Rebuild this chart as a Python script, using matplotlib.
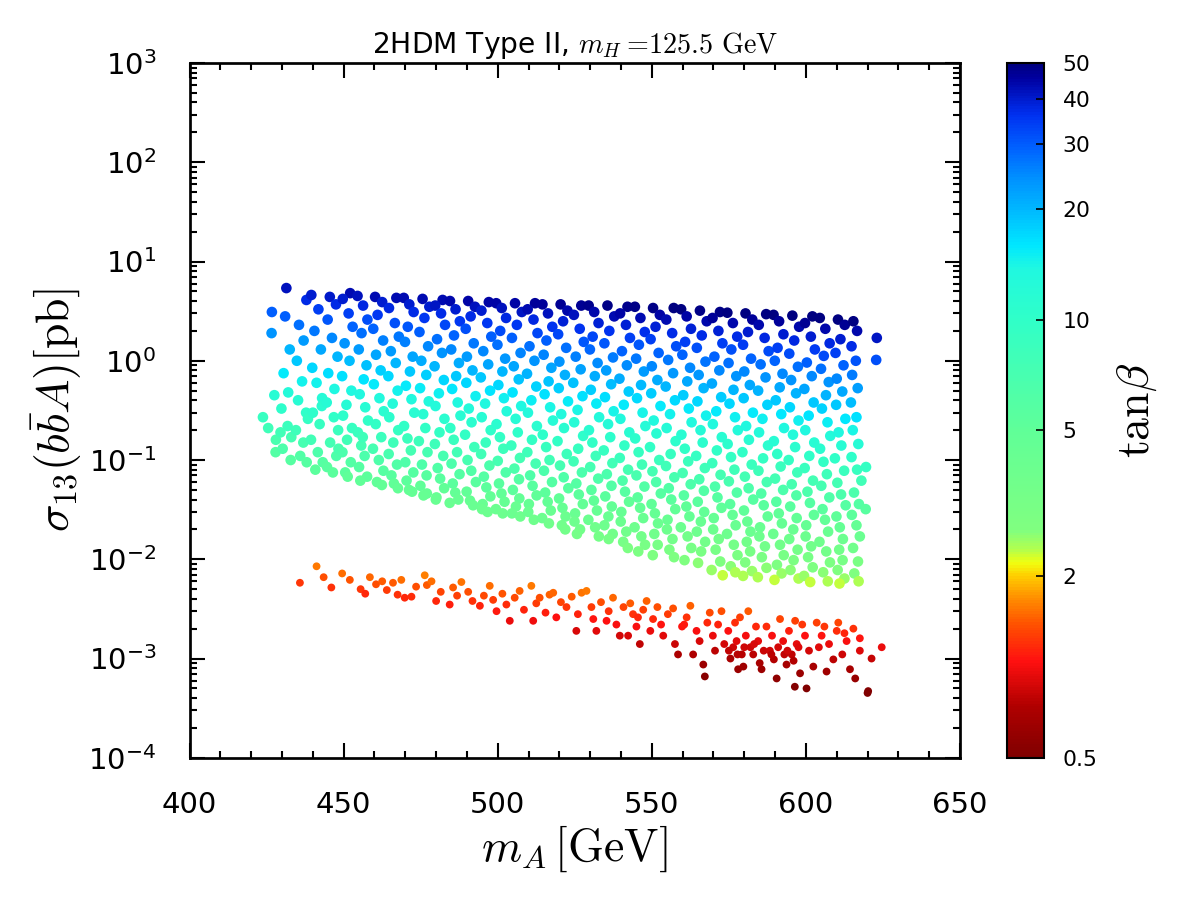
import numpy as np
import matplotlib
matplotlib.use('Agg')
import matplotlib.pyplot as plt
from matplotlib.colors import LogNorm, LinearSegmentedColormap
from matplotlib.ticker import MultipleLocator, LogLocator, NullFormatter

plt.rcParams['mathtext.fontset'] = 'cm'
plt.rcParams['axes.unicode_minus'] = False
plt.rcParams['font.family'] = ['DejaVu Sans']

# main cloud: m_A [GeV], sigma [pb], tan(beta)  (one line per m_A strip)
ma_main = [
    426.7, 426.6, 423.8, 425.5, 427.9, 427.5, 428.0,
    431.4, 431.0, 432.5, 430.5, 432.0, 429.8, 431.8, 433.0, 430.2, 432.8, 429.5,
    437.9, 435.5, 437.0, 434.8, 436.5, 435.2, 437.8, 434.5, 436.9, 435.9, 438.0, 438.4,
    439.5, 441.8, 440.5, 442.6, 439.8, 441.2, 443.0, 440.0, 442.2, 439.4, 441.6, 443.2, 440.8, 442.9,
    445.5, 447.5, 444.8, 446.2, 448.0, 445.0, 447.0, 444.5, 446.8, 448.2, 445.6, 447.6, 444.6, 446.5, 448.3,
    452.1, 449.7, 451.6, 452.9, 450.3, 451.9, 449.5, 452.5, 450.9, 449.8, 452.7, 451.1, 449.6, 452.3, 450.5, 451.3,
    454.5, 456.3, 457.7, 455.8, 454.9, 457.4, 456.5, 455.2, 457.0, 457.9, 454.6, 455.7, 456.8, 455.0, 457.6, 455.4, 456.2,
    460.2, 462.5, 461.0, 459.6, 462.8, 460.5, 462.0, 459.8, 461.6, 463.0, 460.4, 462.2, 459.5, 461.4, 462.9, 460.8, 462.4,
    467.1, 464.7, 466.6, 467.9, 465.3, 466.9, 464.5, 467.5, 465.9, 464.8, 467.7, 466.1, 464.6, 467.3, 465.5, 466.3, 467.6,
    469.5, 471.3, 472.7, 470.8, 469.9, 472.4, 471.5, 470.2, 472.0, 472.9, 469.6, 470.7, 471.8, 470.0, 472.6, 470.4, 471.2, 472.2,
    475.6, 477.8, 476.2, 474.6, 477.4, 475.2, 476.8, 474.8, 477.6, 475.8, 476.5, 474.4, 477.2, 475.4, 476.9, 474.9, 477.0, 475.9,
    482.1, 479.7, 481.6, 482.9, 480.3, 481.9, 479.5, 482.5, 480.9, 479.8, 482.7, 481.1, 479.6, 482.3, 480.5, 481.3, 482.6, 480.1, 479.9,
    484.5, 486.3, 487.7, 485.8, 484.9, 487.4, 486.5, 485.2, 487.0, 487.9, 484.6, 485.7, 486.8, 485.0, 487.6, 485.4, 486.2, 487.2, 484.4,
    490.4, 492.6, 491.2, 489.6, 492.2, 490.0, 491.8, 489.8, 492.8, 490.6, 491.5, 489.4, 492.4, 490.2, 491.4, 492.9, 489.9, 491.0, 492.0,
    497.1, 494.7, 496.6, 497.9, 495.3, 496.9, 494.5, 497.5, 495.9, 494.8, 497.7, 496.1, 494.6, 497.3, 495.5, 496.3, 497.6, 495.1, 494.9, 496.7,
    499.5, 501.3, 502.7, 500.8, 499.9, 502.4, 501.5, 500.2, 502.0, 502.9, 499.6, 500.7, 501.8, 500.0, 502.6, 500.4, 501.2, 502.2, 499.4, 501.6,
    505.6, 507.8, 506.2, 504.6, 507.4, 505.2, 506.8, 504.8, 507.6, 505.8, 506.5, 504.4, 507.2, 505.4, 506.9, 504.9, 507.0, 505.9, 504.6, 507.3,
    512.1, 509.7, 511.6, 512.9, 510.3, 511.9, 509.5, 512.5, 510.9, 509.8, 512.7, 511.1, 509.6, 512.3, 510.5, 511.3, 512.6, 510.1, 509.9, 511.7,
    514.5, 516.3, 517.7, 515.8, 514.9, 517.4, 516.5, 515.2, 517.0, 517.9, 514.6, 515.7, 516.8, 515.0, 517.6, 515.4, 516.2, 517.2, 514.4, 516.6,
    520.4, 522.6, 521.2, 519.6, 522.2, 520.0, 521.8, 519.8, 522.8, 520.6, 521.5, 519.4, 522.4, 520.2, 521.4, 522.9, 519.9, 521.0, 522.0, 520.8, 521.9,
    527.1, 524.7, 526.6, 527.9, 525.3, 526.9, 524.5, 527.5, 525.9, 524.8, 527.7, 526.1, 524.6, 527.3, 525.5, 526.3, 527.6, 525.1, 524.9, 526.7, 525.7,
    529.5, 531.3, 532.7, 530.8, 529.9, 532.4, 531.5, 530.2, 532.0, 532.9, 529.6, 530.7, 531.8, 530.0, 532.6, 530.4, 531.2, 532.2, 529.4, 531.6, 532.8,
    535.6, 537.8, 536.2, 534.6, 537.4, 535.2, 536.8, 534.8, 537.6, 535.8, 536.5, 534.4, 537.2, 535.4, 536.9, 534.9, 537.0, 535.9, 534.6, 537.3, 536.0,
    542.1, 539.7, 541.6, 542.9, 540.3, 541.9, 539.5, 542.5, 540.9, 539.8, 542.7, 541.1, 539.6, 542.3, 540.5, 541.3, 542.6, 540.1, 539.9, 541.7, 540.7, 542.2,
    544.5, 546.3, 547.7, 545.8, 544.9, 547.4, 546.5, 545.2, 547.0, 547.9, 544.6, 545.7, 546.8, 545.0, 547.6, 545.4, 546.2, 547.2, 544.4, 546.6, 547.8, 545.6,
    550.4, 552.6, 551.2, 549.6, 552.2, 550.0, 551.8, 549.8, 552.8, 550.6, 551.5, 549.4, 552.4, 550.2, 551.4, 552.9, 549.9, 551.0, 552.0, 550.8, 551.9, 550.3,
    557.1, 554.7, 556.6, 557.9, 555.3, 556.9, 554.5, 557.5, 555.9, 554.8, 557.7, 556.1, 554.6, 557.3, 555.5, 556.3, 557.6, 555.1, 554.9, 556.7, 555.7, 557.2,
    559.5, 561.3, 562.7, 560.8, 559.9, 562.4, 561.5, 560.2, 562.0, 562.9, 559.6, 560.7, 561.8, 560.0, 562.6, 560.4, 561.2, 562.2, 559.4, 561.6, 562.8, 560.6,
    565.6, 567.8, 566.2, 564.6, 567.4, 565.2, 566.8, 564.8, 567.6, 565.8, 566.5, 564.4, 567.2, 565.4, 566.9, 564.9, 567.0, 565.9, 564.6, 567.3, 566.0, 565.0,
    572.1, 569.7, 571.6, 572.9, 570.3, 571.9, 569.5, 572.5, 570.9, 569.8, 572.7, 571.1, 569.6, 572.3, 570.5, 571.3, 572.6, 570.1, 569.9, 571.7, 570.7, 572.2, 569.4, 573.0,
    574.5, 576.3, 577.7, 575.8, 574.9, 577.4, 576.5, 575.2, 577.0, 577.9, 574.6, 575.7, 576.8, 575.0, 577.6, 575.4, 576.2, 577.2, 574.4, 576.6, 577.8, 575.6, 577.1,
    580.4, 582.6, 581.2, 579.6, 582.2, 580.0, 581.8, 579.8, 582.8, 580.6, 581.5, 579.4, 582.4, 580.2, 581.4, 582.9, 579.9, 581.0, 582.0, 580.8, 581.9, 580.3, 582.5, 579.6,
    587.1, 584.7, 586.6, 587.9, 585.3, 586.9, 584.5, 587.5, 585.9, 584.8, 587.7, 586.1, 584.6, 587.3, 585.5, 586.3, 587.6, 585.1, 584.9, 586.7, 585.7, 587.2, 584.4,
    589.5, 591.3, 592.7, 590.8, 589.9, 592.4, 591.5, 590.2, 592.0, 592.9, 589.6, 590.7, 591.8, 590.0, 592.6, 590.4, 591.2, 592.2, 589.4, 591.6, 592.8, 590.6, 592.1, 589.8,
    595.6, 597.8, 596.2, 594.6, 597.4, 595.2, 596.8, 594.8, 597.6, 595.8, 596.5, 594.4, 597.2, 595.4, 596.9, 594.9, 597.0, 595.9, 594.6, 597.3, 596.0, 595.0, 597.6,
    602.1, 599.7, 601.6, 602.9, 600.3, 601.9, 599.5, 602.5, 600.9, 599.8, 602.7, 601.1, 599.6, 602.3, 600.5, 601.3, 602.6, 600.1, 599.9, 601.7, 600.7, 602.2, 599.4, 601.4,
    604.5, 606.3, 607.7, 605.8, 604.9, 607.4, 606.5, 605.2, 607.0, 607.9, 604.6, 605.7, 606.8, 605.0, 607.6, 605.4, 606.2, 607.2, 604.4, 606.6, 607.8, 605.6, 607.1,
    610.4, 612.6, 611.2, 609.6, 612.2, 610.0, 611.8, 609.8, 612.8, 610.6, 611.5, 609.4, 612.4, 610.2, 611.4, 612.9, 609.9, 611.0, 612.0, 610.8, 611.9, 610.3, 612.5, 610.9,
    615.4, 616.6, 614.8, 616.2, 615.0, 616.8, 614.6, 616.4, 615.2, 617.0, 614.8, 616.6, 618.0, 615.6, 617.2, 614.9, 616.4, 617.5, 615.3, 616.9, 615.7, 617.1,
    619.5, 619.4, 623.0, 622.8,
]
sig_main = [
    3.1, 1.9, 0.27, 0.21, 0.12, 0.45, 0.16,
    5.4, 2.8, 1.3, 0.75, 0.48, 0.33, 0.22, 0.17, 0.13, 0.1, 0.19,
    4.1, 2.3, 1.6, 1.0, 0.62, 0.4, 0.3, 0.2, 0.15, 0.11, 0.095, 0.26,
    4.6, 3.3, 2.0, 1.3, 0.85, 0.6, 0.42, 0.3, 0.23, 0.16, 0.12, 0.095, 0.08, 0.35,
    4.4, 3.7, 2.6, 1.7, 1.1, 0.75, 0.52, 0.38, 0.27, 0.2, 0.15, 0.11, 0.085, 0.075, 0.13,
    4.8, 4.2, 3.0, 2.2, 1.5, 1.0, 0.7, 0.5, 0.36, 0.28, 0.21, 0.16, 0.12, 0.095, 0.075, 0.068,
    4.5, 3.6, 2.6, 1.9, 1.3, 0.9, 0.65, 0.46, 0.34, 0.25, 0.19, 0.14, 0.11, 0.085, 0.068, 0.062, 0.17,
    4.4, 3.9, 2.9, 2.1, 1.6, 1.15, 0.8, 0.58, 0.42, 0.31, 0.23, 0.17, 0.13, 0.1, 0.078, 0.06, 0.056,
    4.3, 3.4, 2.4, 1.75, 1.25, 0.95, 0.7, 0.5, 0.37, 0.27, 0.2, 0.15, 0.115, 0.09, 0.07, 0.058, 0.052,
    4.3, 3.7, 3.1, 2.2, 1.55, 1.1, 0.78, 0.56, 0.41, 0.3, 0.22, 0.165, 0.125, 0.095, 0.075, 0.062, 0.05, 0.048,
    4.2, 3.5, 2.7, 1.95, 1.4, 1.0, 0.72, 0.53, 0.39, 0.29, 0.21, 0.155, 0.12, 0.09, 0.07, 0.055, 0.046, 0.044,
    4.1, 3.6, 3.0, 2.3, 1.65, 1.2, 0.88, 0.64, 0.47, 0.35, 0.26, 0.19, 0.145, 0.11, 0.083, 0.065, 0.052, 0.042, 0.04,
    4.0, 3.3, 2.5, 1.8, 1.3, 0.95, 0.7, 0.52, 0.38, 0.28, 0.21, 0.16, 0.12, 0.092, 0.072, 0.058, 0.047, 0.04, 0.037,
    4.0, 3.5, 2.8, 2.1, 1.5, 1.1, 0.8, 0.6, 0.44, 0.33, 0.24, 0.18, 0.135, 0.1, 0.078, 0.06, 0.048, 0.039, 0.035,
    3.9, 3.2, 2.4, 1.75, 1.25, 0.92, 0.68, 0.5, 0.37, 0.27, 0.2, 0.15, 0.115, 0.088, 0.068, 0.053, 0.043, 0.036, 0.032, 0.03,
    3.8, 3.4, 2.7, 2.0, 1.45, 1.05, 0.78, 0.57, 0.42, 0.31, 0.23, 0.17, 0.13, 0.098, 0.075, 0.058, 0.046, 0.038, 0.032, 0.029,
    3.8, 3.1, 2.3, 1.7, 1.2, 0.88, 0.65, 0.48, 0.35, 0.26, 0.19, 0.14, 0.105, 0.082, 0.064, 0.05, 0.041, 0.034, 0.029, 0.027,
    3.8, 3.3, 2.6, 1.9, 1.4, 1.0, 0.74, 0.55, 0.4, 0.3, 0.22, 0.16, 0.12, 0.092, 0.07, 0.055, 0.044, 0.036, 0.03, 0.025,
    3.7, 3.0, 2.2, 1.6, 1.15, 0.85, 0.62, 0.46, 0.34, 0.25, 0.18, 0.135, 0.1, 0.078, 0.06, 0.047, 0.038, 0.031, 0.026, 0.023,
    3.7, 3.2, 2.5, 1.85, 1.35, 0.98, 0.72, 0.53, 0.39, 0.29, 0.21, 0.155, 0.115, 0.088, 0.067, 0.052, 0.041, 0.033, 0.027, 0.022, 0.02,
    3.6, 2.9, 2.1, 1.55, 1.1, 0.82, 0.6, 0.44, 0.32, 0.24, 0.175, 0.13, 0.097, 0.075, 0.058, 0.045, 0.036, 0.029, 0.024, 0.02, 0.018,
    3.6, 3.1, 2.4, 1.75, 1.3, 0.95, 0.7, 0.51, 0.37, 0.27, 0.2, 0.15, 0.11, 0.085, 0.065, 0.05, 0.039, 0.031, 0.025, 0.021, 0.017,
    3.6, 2.8, 2.0, 1.5, 1.08, 0.8, 0.58, 0.43, 0.31, 0.23, 0.17, 0.125, 0.093, 0.072, 0.055, 0.043, 0.034, 0.027, 0.022, 0.018, 0.016,
    3.5, 3.0, 2.3, 1.7, 1.25, 0.9, 0.66, 0.49, 0.36, 0.26, 0.19, 0.14, 0.105, 0.08, 0.062, 0.048, 0.038, 0.03, 0.024, 0.019, 0.015, 0.013,
    3.5, 2.7, 1.95, 1.45, 1.05, 0.78, 0.57, 0.42, 0.3, 0.22, 0.165, 0.12, 0.09, 0.07, 0.054, 0.042, 0.033, 0.026, 0.021, 0.017, 0.014, 0.012,
    3.4, 2.9, 2.2, 1.65, 1.2, 0.88, 0.64, 0.47, 0.35, 0.25, 0.185, 0.135, 0.1, 0.077, 0.06, 0.046, 0.036, 0.029, 0.023, 0.018, 0.014, 0.011,
    3.4, 2.6, 1.9, 1.4, 1.02, 0.75, 0.55, 0.4, 0.29, 0.21, 0.155, 0.115, 0.087, 0.067, 0.052, 0.04, 0.032, 0.025, 0.02, 0.016, 0.0125, 0.0105,
    3.3, 2.8, 2.1, 1.55, 1.15, 0.85, 0.62, 0.45, 0.33, 0.24, 0.18, 0.13, 0.097, 0.074, 0.057, 0.044, 0.034, 0.027, 0.021, 0.017, 0.013, 0.0098,
    3.2, 2.5, 1.8, 1.35, 0.98, 0.72, 0.53, 0.39, 0.28, 0.2, 0.15, 0.11, 0.083, 0.064, 0.049, 0.038, 0.03, 0.024, 0.019, 0.015, 0.012, 0.0092,
    3.1, 2.7, 2.0, 1.5, 1.1, 0.8, 0.59, 0.43, 0.31, 0.23, 0.17, 0.125, 0.093, 0.071, 0.054, 0.042, 0.033, 0.026, 0.02, 0.016, 0.0125, 0.0095, 0.0078, 0.0069,
    3.05, 2.4, 1.75, 1.3, 0.95, 0.7, 0.51, 0.37, 0.27, 0.2, 0.145, 0.107, 0.08, 0.061, 0.047, 0.036, 0.028, 0.022, 0.018, 0.014, 0.011, 0.0085, 0.0074,
    3.0, 2.6, 1.95, 1.45, 1.05, 0.78, 0.57, 0.42, 0.3, 0.22, 0.16, 0.12, 0.09, 0.068, 0.052, 0.04, 0.031, 0.024, 0.019, 0.015, 0.012, 0.0093, 0.0076, 0.0068,
    2.95, 2.3, 1.7, 1.25, 0.92, 0.68, 0.5, 0.36, 0.26, 0.19, 0.14, 0.104, 0.078, 0.06, 0.046, 0.035, 0.027, 0.021, 0.017, 0.0135, 0.0105, 0.0082, 0.0066,
    2.9, 2.5, 1.85, 1.35, 1.0, 0.74, 0.54, 0.4, 0.29, 0.21, 0.155, 0.115, 0.086, 0.065, 0.05, 0.038, 0.029, 0.023, 0.018, 0.014, 0.011, 0.0088, 0.0072, 0.0062,
    2.85, 2.2, 1.6, 1.18, 0.87, 0.64, 0.47, 0.34, 0.25, 0.18, 0.135, 0.1, 0.075, 0.057, 0.044, 0.034, 0.026, 0.02, 0.016, 0.0125, 0.0098, 0.0078, 0.0064,
    2.8, 2.4, 1.75, 1.3, 0.96, 0.7, 0.52, 0.38, 0.28, 0.2, 0.15, 0.11, 0.083, 0.062, 0.048, 0.037, 0.028, 0.022, 0.017, 0.0135, 0.0105, 0.0083, 0.0068, 0.0059,
    2.7, 2.1, 1.5, 1.12, 0.83, 0.61, 0.45, 0.33, 0.24, 0.175, 0.13, 0.096, 0.072, 0.055, 0.042, 0.032, 0.025, 0.019, 0.015, 0.012, 0.0093, 0.0074, 0.006,
    2.6, 2.3, 1.65, 1.2, 0.9, 0.66, 0.49, 0.36, 0.26, 0.19, 0.14, 0.104, 0.078, 0.059, 0.045, 0.035, 0.027, 0.021, 0.016, 0.0125, 0.0098, 0.0078, 0.0064, 0.0057,
    2.5, 2.0, 1.4, 1.0, 0.72, 0.53, 0.38, 0.27, 0.2, 0.145, 0.107, 0.08, 0.062, 0.047, 0.036, 0.028, 0.022, 0.017, 0.013, 0.0095, 0.0072, 0.006,
    0.085, 0.032, 1.7, 1.02,
]
tb_main = [
    30, 24, 9.0, 8.0, 6.0, 11.6, 6.9,
    42, 30, 20, 15.5, 12.4, 10.3, 8.4, 7.4, 6.5, 5.7, 7.8,
    37, 28, 23, 18.4, 14.5, 11.6, 10.1, 8.2, 7.1, 6.1, 5.7, 9.4,
    40, 34, 27, 21.5, 17.4, 14.6, 12.2, 10.4, 9.1, 7.6, 6.5, 5.8, 5.3, 11.2,
    40.5, 37, 31, 25, 20, 16.7, 13.9, 11.9, 10.0, 8.6, 7.5, 6.4, 5.6, 5.3, 7.0,
    43, 40, 34, 29, 24, 19.6, 16.4, 13.9, 11.8, 10.4, 9.0, 7.8, 6.8, 6.0, 5.4, 5.1,
    42, 38, 32, 28, 23, 19, 16, 13.6, 11.7, 10, 8.7, 7.5, 6.6, 5.8, 5.2, 5.0, 8.2,
    43, 40, 35, 29, 26, 22, 18, 15.5, 13.2, 11.3, 9.7, 8.4, 7.3, 6.4, 5.7, 5.0, 4.8,
    43, 38, 32, 27, 23, 20, 17.2, 14.6, 12.5, 10.7, 9.2, 8.0, 7.0, 6.2, 5.5, 5.0, 4.7,
    43, 40, 37, 31, 26, 22, 18.5, 15.6, 13.4, 11.4, 9.8, 8.5, 7.4, 6.4, 5.7, 5.2, 4.7, 4.6,
    43, 40, 35, 30, 25, 21, 18, 15.4, 13.2, 11.4, 9.7, 8.3, 7.3, 6.4, 5.6, 5.0, 4.5, 4.4,
    43, 41, 37, 33, 28, 24, 20, 17.2, 14.7, 12.7, 11.0, 9.4, 8.2, 7.1, 6.2, 5.5, 4.9, 4.4, 4.3,
    44, 40, 35, 29, 25, 21, 18.4, 15.8, 13.5, 11.6, 10.0, 8.8, 7.6, 6.6, 5.9, 5.3, 4.7, 4.4, 4.2,
    44.6, 42, 37, 32, 27, 23, 20, 17.3, 14.8, 12.8, 10.9, 9.5, 8.2, 7.1, 6.2, 5.5, 4.9, 4.4, 4.2,
    45, 40, 35, 30, 25, 22, 18.6, 16, 13.7, 11.7, 10.1, 8.8, 7.7, 6.7, 5.9, 5.2, 4.7, 4.3, 4.0, 3.9,
    45, 42, 38, 32.5, 28, 23.5, 20, 17.4, 14.9, 12.8, 11.0, 9.5, 8.3, 7.2, 6.3, 5.5, 4.9, 4.5, 4.1, 3.9,
    45, 41, 35, 30, 25.6, 22, 18.8, 16.1, 13.8, 11.9, 10.2, 8.7, 7.5, 6.7, 5.9, 5.2, 4.7, 4.3, 4.0, 3.8,
    46, 43, 38, 33, 28, 23.7, 20.4, 17.6, 15.0, 13.0, 11.1, 9.5, 8.2, 7.2, 6.3, 5.6, 5.0, 4.5, 4.1, 3.7,
    46, 41.5, 35.6, 30, 25.7, 22, 18.9, 16.3, 14.0, 12.0, 10.2, 8.8, 7.6, 6.7, 5.9, 5.2, 4.7, 4.2, 3.9, 3.6,
    47, 44, 39, 33, 28, 24, 20.7, 17.8, 15.2, 13.1, 11.2, 9.6, 8.3, 7.2, 6.3, 5.6, 4.9, 4.4, 4.0, 3.6, 3.4,
    47, 42, 36, 31, 26, 22.4, 19.1, 16.4, 14.0, 12.1, 10.3, 8.9, 7.7, 6.8, 5.9, 5.2, 4.7, 4.2, 3.8, 3.5, 3.3,
    48, 44, 39, 33, 28.6, 24.5, 21, 17.9, 15.3, 13.0, 11.2, 9.7, 8.3, 7.3, 6.4, 5.6, 5.0, 4.4, 4.0, 3.6, 3.3,
    48.5, 43, 36, 31, 26.5, 22.8, 19.4, 16.7, 14.2, 12.2, 10.5, 9.0, 7.8, 6.8, 6.0, 5.3, 4.7, 4.2, 3.8, 3.4, 3.2,
    48, 45, 39, 34, 29, 24.5, 21, 18.1, 15.5, 13.2, 11.2, 9.7, 8.4, 7.3, 6.4, 5.7, 5.0, 4.5, 4.0, 3.6, 3.2, 2.9,
    49, 43, 36.5, 31, 26.7, 23, 19.7, 16.9, 14.3, 12.2, 10.6, 9.0, 7.8, 6.9, 6.1, 5.3, 4.7, 4.2, 3.8, 3.4, 3.1, 2.9,
    49, 45, 39, 34, 29, 24.9, 21.2, 18.2, 15.7, 13.3, 11.4, 9.7, 8.4, 7.4, 6.5, 5.7, 5.0, 4.5, 4.0, 3.6, 3.1, 2.8,
    50, 43, 37, 32, 27, 23.3, 20, 17.0, 14.5, 12.3, 10.6, 9.1, 7.9, 7.0, 6.1, 5.4, 4.8, 4.3, 3.8, 3.4, 3.0, 2.8,
    49.5, 45, 39, 34, 29, 25, 21.4, 18.2, 15.6, 13.3, 11.5, 9.8, 8.5, 7.4, 6.5, 5.7, 5.0, 4.5, 3.9, 3.5, 3.1, 2.7,
    49, 44, 37, 32, 27.3, 23.4, 20.1, 17.2, 14.6, 12.3, 10.7, 9.2, 8.0, 7.0, 6.1, 5.4, 4.8, 4.3, 3.8, 3.4, 3.0, 2.6,
    49, 46, 39, 34, 29, 25, 21.4, 18.3, 15.5, 13.4, 11.5, 9.9, 8.5, 7.4, 6.5, 5.7, 5.1, 4.5, 3.9, 3.5, 3.1, 2.7, 2.5, 2.3,
    49.5, 44, 37, 32, 27.6, 23.7, 20.2, 17.2, 14.7, 12.7, 10.8, 9.3, 8.0, 7.0, 6.1, 5.4, 4.7, 4.2, 3.8, 3.3, 3.0, 2.6, 2.4,
    50, 46, 40, 34.5, 29.4, 25.3, 21.7, 18.6, 15.7, 13.5, 11.5, 9.9, 8.6, 7.5, 6.5, 5.7, 5.1, 4.4, 4.0, 3.5, 3.1, 2.8, 2.5, 2.4,
    50, 44, 38, 32.5, 28, 24, 20.6, 17.5, 14.8, 12.7, 10.9, 9.4, 8.1, 7.1, 6.2, 5.4, 4.8, 4.2, 3.8, 3.4, 3.0, 2.6, 2.4,
    50, 46.5, 40, 34, 29.4, 25.3, 21.6, 18.6, 15.8, 13.5, 11.6, 10.0, 8.6, 7.5, 6.6, 5.7, 5.0, 4.5, 3.9, 3.5, 3.1, 2.8, 2.5, 2.3,
    50, 44, 37.6, 32.4, 27.8, 23.8, 20.4, 17.4, 14.9, 12.6, 10.9, 9.4, 8.2, 7.1, 6.2, 5.5, 4.8, 4.2, 3.8, 3.3, 2.9, 2.6, 2.4,
    50, 47, 40, 34.4, 29.6, 25.3, 21.8, 18.6, 16.0, 13.5, 11.7, 10.0, 8.7, 7.5, 6.6, 5.8, 5.1, 4.5, 3.9, 3.5, 3.1, 2.8, 2.5, 2.3,
    50, 44, 37.5, 32.4, 27.9, 23.9, 20.5, 17.6, 15.0, 12.8, 11.0, 9.5, 8.2, 7.2, 6.3, 5.5, 4.8, 4.2, 3.7, 3.4, 2.9, 2.6, 2.4,
    50, 47, 40, 34, 29.3, 25, 21.6, 18.5, 15.8, 13.5, 11.6, 10.0, 8.6, 7.5, 6.6, 5.8, 5.1, 4.5, 3.9, 3.5, 3.1, 2.7, 2.5, 2.3,
    49.5, 44, 37, 31.3, 26.6, 22.8, 19.3, 16.3, 14.0, 11.9, 10.2, 8.9, 7.8, 6.8, 5.9, 5.2, 4.6, 4.1, 3.6, 3.0, 2.7, 2.4,
    9.2, 5.6, 41, 32,
]

# low tan(beta) band
ma_low = [
    435.8, 441.2, 443.5, 446.0, 449.5, 452.0, 455.5, 457.0, 458.5, 460.5,
    462.5, 464.0, 466.0, 467.5, 468.7, 469.8, 472.0, 473.5, 476.3, 477.0,
    478.5, 480.0, 481.5, 484.4, 485.5, 486.8, 488.2, 490.4, 491.8, 494.2,
    495.5, 497.4, 498.5, 499.6, 501.5, 502.8, 503.9, 505.5, 507.1, 508.5,
    510.9, 511.5, 512.5, 513.6, 515.5, 516.8, 518.0, 519.0, 520.5, 522.3,
    524.0, 525.5, 526.0, 527.2, 528.8, 530.4, 531.0, 532.0, 533.5, 535.3,
    536.0, 537.4, 538.5, 539.6, 540.8, 542.3, 543.0, 543.9, 545.0, 546.1,
    547.2, 548.3, 549.5, 550.4, 551.8, 553.0, 553.7, 555.2, 556.9, 557.5,
    558.5, 559.8, 561.3, 562.5, 563.4, 564.5, 565.5, 566.7, 567.2, 568.0,
    568.8, 569.8, 570.5, 571.5, 572.6, 573.5, 574.8, 575.5, 576.4, 577.0,
    577.5, 578.0, 578.6, 579.2, 579.7, 580.5, 581.3, 582.0, 582.9, 583.8,
    584.5, 585.6, 586.3, 587.2, 588.3, 589.0, 589.6, 590.5, 591.6, 592.6,
    593.0, 593.7, 594.5, 595.4, 596.4, 597.0, 598.1, 598.8, 599.7, 600.2,
    601.0, 602.4, 603.5, 604.2, 605.1, 606.7, 607.5, 608.9, 610.0, 610.5,
    611.8, 613.2, 614.3, 615.4, 616.0, 617.5, 617.5, 620.2, 620.0, 621.3,
    624.6, 575.0, 577.8, 580.0, 583.2, 585.0, 588.8, 591.0, 594.0, 596.0,
    597.6, 596.5, 606.0, 612.5, 545.5, 560.5,
]
sig_low = [
    0.0058, 0.0085, 0.0066, 0.0052, 0.0072, 0.0062, 0.005, 0.0045, 0.0066, 0.0056,
    0.006, 0.0049, 0.0058, 0.0044, 0.0062, 0.0041, 0.0042, 0.0053, 0.0069, 0.0055,
    0.006, 0.0038, 0.0047, 0.0035, 0.0052, 0.0043, 0.0059, 0.0047, 0.0038, 0.0034,
    0.0043, 0.0054, 0.0039, 0.003, 0.0045, 0.0035, 0.0024, 0.0041, 0.0048, 0.0031,
    0.0054, 0.0024, 0.0036, 0.0041, 0.0029, 0.0044, 0.0046, 0.0026, 0.0037, 0.0033,
    0.0042, 0.0019, 0.0028, 0.0046, 0.0048, 0.0033, 0.0025, 0.0019, 0.0037, 0.0024,
    0.003, 0.0041, 0.0022, 0.0017, 0.0033, 0.0017, 0.0036, 0.0028, 0.0021, 0.0014,
    0.0031, 0.0038, 0.0019, 0.0025, 0.0033, 0.0022, 0.0017, 0.0028, 0.0032, 0.0014,
    0.0011, 0.0021, 0.0026, 0.0034, 0.0011, 0.0019, 0.0015, 0.00087, 0.00066, 0.0023,
    0.0029, 0.0017, 0.0012, 0.0022, 0.003, 0.0014, 0.0019, 0.001, 0.0013, 0.0023,
    0.0015, 0.00078, 0.0026, 0.0011, 0.00083, 0.0017, 0.003, 0.0013, 0.0011, 0.0021,
    0.0015, 0.00078, 0.0012, 0.0021, 0.0012, 0.0017, 0.00098, 0.00063, 0.0025, 0.0015,
    0.0011, 0.00087, 0.0019, 0.0011, 0.00052, 0.0014, 0.00071, 0.0022, 0.0017, 0.0005,
    0.0012, 0.00083, 0.0023, 0.0013, 0.0017, 0.00074, 0.0014, 0.00098, 0.0019, 0.0023,
    0.0011, 0.0015, 0.00078, 0.002, 0.00063, 0.0016, 0.0012, 0.00047, 0.00045, 0.001,
    0.0013, 0.0012, 0.0011, 0.0013, 0.0014, 0.0009, 0.0011, 0.0013, 0.0012, 0.00095,
    0.0013, 0.0024, 0.0021, 0.0018, 0.0026, 0.0022,
]
tb_low = [
    1.35, 1.64, 1.46, 1.32, 1.58, 1.48, 1.35, 1.28, 1.56, 1.45,
    1.51, 1.37, 1.50, 1.31, 1.58, 1.28, 1.30, 1.47, 1.68, 1.51,
    1.58, 1.27, 1.41, 1.23, 1.51, 1.38, 1.62, 1.46, 1.32, 1.25,
    1.43, 1.60, 1.36, 1.21, 1.48, 1.30, 1.09, 1.43, 1.55, 1.25,
    1.64, 1.12, 1.36, 1.46, 1.23, 1.53, 1.56, 1.18, 1.41, 1.35,
    1.52, 1.02, 1.25, 1.61, 1.64, 1.37, 1.20, 1.05, 1.47, 1.18,
    1.33, 1.56, 1.15, 1.01, 1.41, 1.02, 1.50, 1.31, 1.15, 0.94,
    1.39, 1.55, 1.10, 1.27, 1.46, 1.20, 1.06, 1.36, 1.46, 0.97,
    0.86, 1.20, 1.33, 1.53, 0.87, 1.15, 1.02, 0.78, 0.68, 1.28,
    1.43, 1.10, 0.92, 1.25, 1.47, 1.00, 1.17, 0.85, 0.98, 1.30,
    1.06, 0.76, 1.39, 0.91, 0.79, 1.13, 1.51, 0.99, 0.92, 1.27,
    1.07, 0.78, 0.97, 1.29, 0.98, 1.15, 0.89, 0.71, 1.41, 1.10,
    0.94, 0.84, 1.24, 0.94, 0.66, 1.07, 0.77, 1.35, 1.18, 0.64,
    1.00, 0.84, 1.39, 1.05, 1.20, 0.79, 1.09, 0.92, 1.29, 1.41,
    0.98, 1.15, 0.83, 1.33, 0.75, 1.20, 1.04, 0.66, 0.63, 0.95,
    1.09, 0.94, 0.91, 0.99, 1.02, 0.84, 0.93, 1.01, 0.99, 0.89,
    1.04, 1.40, 1.35, 1.25, 1.28, 1.22,
]

# colour scale as it appears on the reference colour bar (bottom -> top)
cbar_pos = [0.0, 0.073, 0.138, 0.19, 0.23, 0.262, 0.28, 0.30, 0.327,
            0.47, 0.63, 0.705, 0.738, 0.79, 0.836, 0.88, 0.927, 0.98, 1.0]
cbar_col = ['#800000', '#b00000', '#ff1010', '#ff5000', '#ff9000', '#ffd000',
            '#f0ff10', '#b0ff50', '#80ff80', '#60ff98', '#30ffc8', '#20f8e0',
            '#00e8ff', '#00b8ff', '#0090ff', '#0060ff', '#0030f0', '#0000a0',
            '#000080']
cmap = LinearSegmentedColormap.from_list('tanb', list(zip(cbar_pos, cbar_col)), N=256)

fig = plt.figure(figsize=(8, 6), dpi=150)
ax = fig.add_axes([0.158, 0.158, 0.642, 0.772])
cax = fig.add_axes([0.839, 0.158, 0.031, 0.772])

norm = LogNorm(vmin=0.64, vmax=50)
ax.scatter(ma_low, sig_low, c=tb_low, cmap=cmap, norm=norm, s=14, linewidths=0)
sc = ax.scatter(ma_main, sig_main, c=tb_main, cmap=cmap, norm=norm, s=26, linewidths=0)

ax.set_yscale('log')
ax.set_xlim(400, 650)
ax.set_ylim(1e-4, 1e3)
ax.xaxis.set_major_locator(MultipleLocator(50))
ax.xaxis.set_minor_locator(MultipleLocator(10))
ax.yaxis.set_major_locator(LogLocator(base=10, numticks=20))
ax.yaxis.set_minor_locator(LogLocator(base=10, subs=np.arange(2, 10), numticks=20))
ax.yaxis.set_minor_formatter(NullFormatter())
ax.tick_params(which='both', direction='in', top=True, right=True,
               labelsize=14, pad=16, width=1.0)
ax.tick_params(which='major', length=7)
ax.tick_params(which='minor', length=3.5)
for sp in ax.spines.values():
    sp.set_linewidth(1.3)

ax.set_title(r'2HDM Type II, $m_H =\!125.5\ \mathrm{GeV}$', fontsize=13.5, pad=5)
ax.set_xlabel(r'$m_A\,[\mathrm{GeV}]$', fontsize=22, labelpad=2)
ax.set_ylabel(r'$\sigma_{13}(b\bar{b}A)[\mathrm{pb}]$', fontsize=22, labelpad=2)

cb = fig.colorbar(sc, cax=cax)
cb.minorticks_off()
cb.set_ticks([0.64, 2, 5, 10, 20, 30, 40, 50])
cb.set_ticklabels(['0.5', '2', '5', '10', '20', '30', '40', '50'])
cax.tick_params(direction='in', length=4, width=0.8, labelsize=10.5, pad=9)
cb.outline.set_linewidth(1.0)
cb.set_label(r'$\mathrm{tan}\beta$', fontsize=22, labelpad=8)

fig.savefig('out.png', dpi=150)
